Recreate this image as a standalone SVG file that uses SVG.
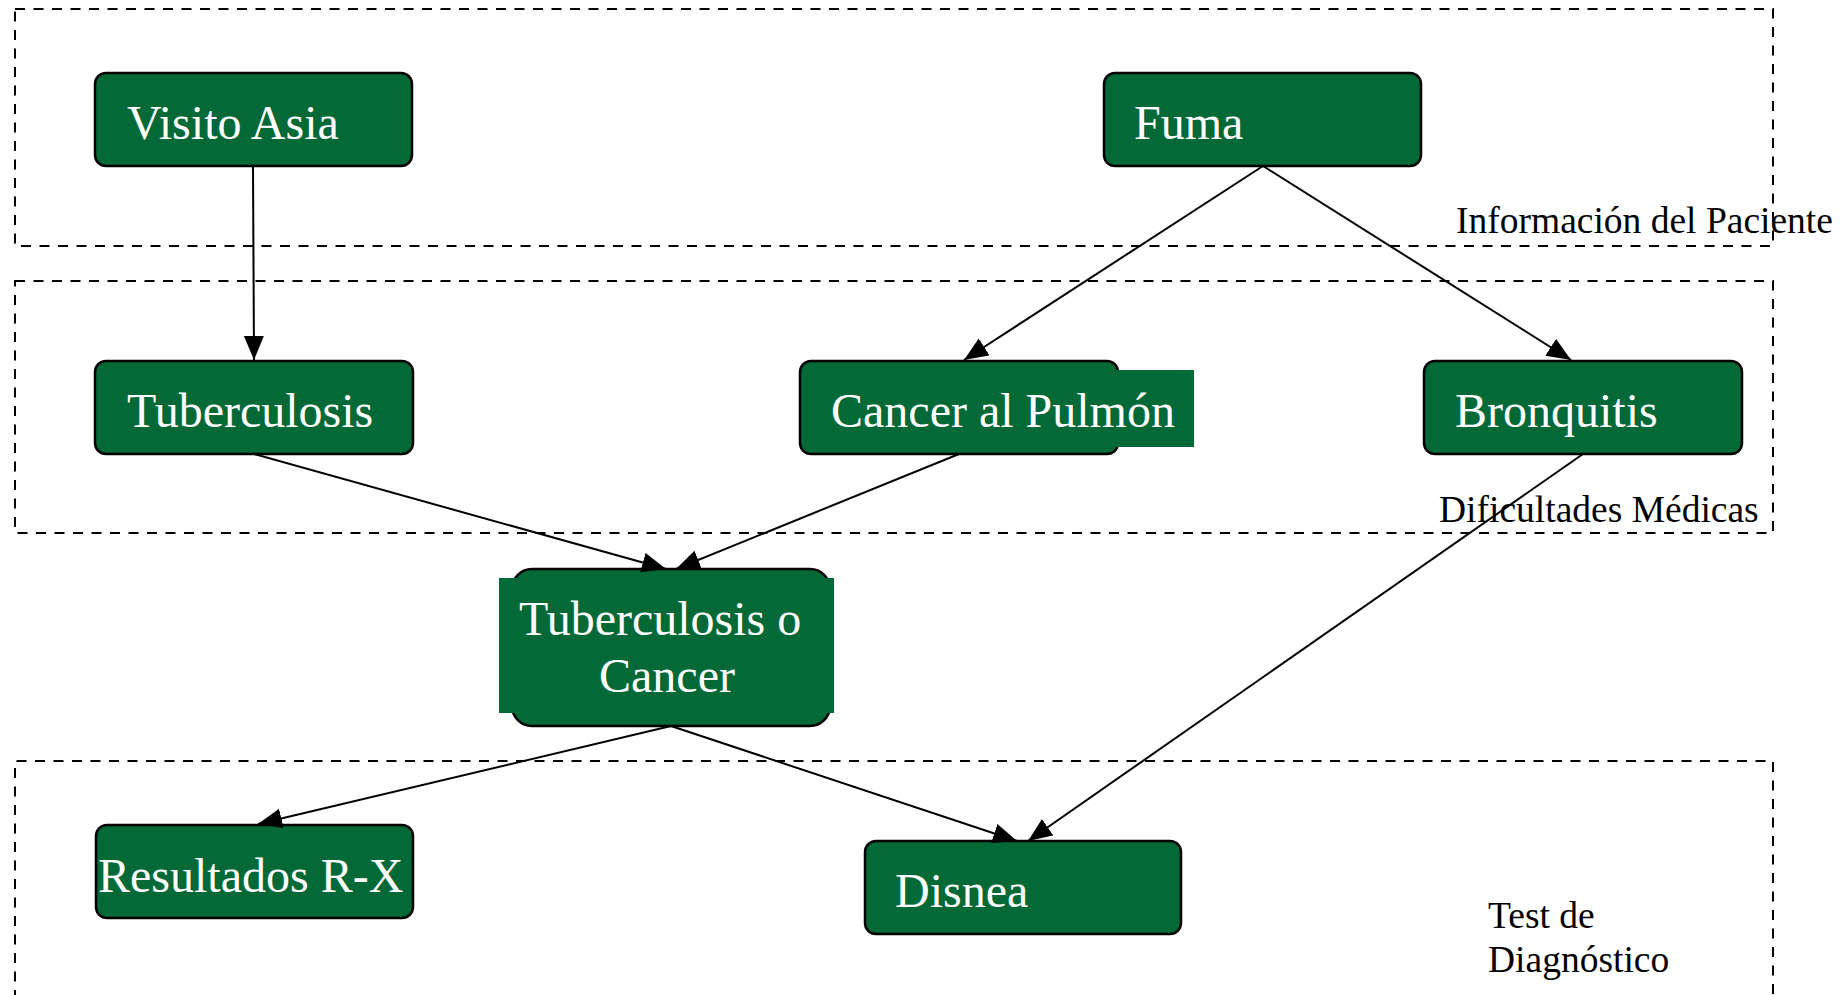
<svg xmlns="http://www.w3.org/2000/svg" width="1845" height="995" viewBox="0 0 1845 995">
  <style>
    .zone { fill: none; stroke: #000; stroke-width: 2; stroke-dasharray: 10 8.5; }
    .zlabel { font-family: "Liberation Serif", "Times New Roman", serif; font-size: 37.5px; fill: #000; }
    .box { fill: #036937; stroke: #000; stroke-width: 2.5; }
    .tbg { fill: #036937; stroke: none; }
    .ntext { font-family: "Liberation Serif", "Times New Roman", serif; font-size: 48px; fill: #fff; }
    .edge { stroke: #000; stroke-width: 2; fill: none; marker-end: url(#arrow); }
  </style>
  <defs>
    <marker id="arrow" markerUnits="userSpaceOnUse" markerWidth="26" markerHeight="22" refX="24" refY="10" orient="auto">
      <path d="M0,0 L24,10 L0,20 z" fill="#000"/>
    </marker>
  </defs>
  <rect width="1845" height="995" fill="#fff"/>

  <g id="zones">
    <rect class="zone" x="15" y="9" width="1758" height="237"/>
    <rect class="zone" x="15" y="281" width="1758" height="252"/>
    <path class="zone" d="M15,1000 L15,761 L1773,761 L1773,1000"/>
    <text class="zlabel" x="1456" y="233">Información del Paciente</text>
    <text class="zlabel" x="1439" y="522">Dificultades Médicas</text>
    <text class="zlabel" x="1488" y="928">Test de</text>
    <text class="zlabel" x="1488" y="972">Diagnóstico</text>
  </g>

  <g id="node-visito-asia">
    <rect class="box" x="95" y="73" width="317" height="93" rx="11"/>
    <text class="ntext" x="127" y="139">Visito Asia</text>
  </g>
  <g id="node-fuma">
    <rect class="box" x="1104" y="73" width="317" height="93" rx="11"/>
    <text class="ntext" x="1134" y="139">Fuma</text>
  </g>
  <g id="node-tuberculosis">
    <rect class="box" x="95" y="361" width="318" height="93" rx="11"/>
    <text class="ntext" x="127" y="427">Tuberculosis</text>
  </g>
  <g id="node-cancer-pulmon">
    <rect class="box" x="800" y="361" width="318" height="93" rx="11"/>
    <rect class="tbg" x="812" y="370" width="382" height="77"/>
    <text class="ntext" x="831" y="427">Cancer al Pulmón</text>
  </g>
  <g id="node-bronquitis">
    <rect class="box" x="1424" y="361" width="318" height="93" rx="11"/>
    <text class="ntext" x="1455" y="427">Bronquitis</text>
  </g>
  <g id="node-tb-o-cancer">
    <rect class="box" x="512" y="569" width="318" height="157" rx="20"/>
    <rect class="tbg" x="499" y="578" width="335" height="135"/>
    <text class="ntext" x="519" y="635">Tuberculosis o</text>
    <text class="ntext" x="599" y="692">Cancer</text>
  </g>
  <g id="node-resultados">
    <rect class="box" x="96" y="825" width="317" height="93" rx="11"/>
    <text class="ntext" x="98" y="892">Resultados R-X</text>
  </g>
  <g id="node-disnea">
    <rect class="box" x="865" y="841" width="316" height="93" rx="11"/>
    <text class="ntext" x="895" y="907">Disnea</text>
  </g>

  <g id="connectors">
    <line class="edge" x1="253" y1="166" x2="254" y2="360"/>
    <line class="edge" x1="1263" y1="166" x2="964" y2="360"/>
    <line class="edge" x1="1263" y1="166" x2="1571" y2="360"/>
    <line class="edge" x1="254" y1="454" x2="666" y2="569"/>
    <line class="edge" x1="959" y1="454" x2="676" y2="569"/>
    <line class="edge" x1="1583" y1="454" x2="1028" y2="841"/>
    <line class="edge" x1="671" y1="726" x2="258" y2="824"/>
    <line class="edge" x1="671" y1="726" x2="1017" y2="841"/>
  </g>
</svg>
